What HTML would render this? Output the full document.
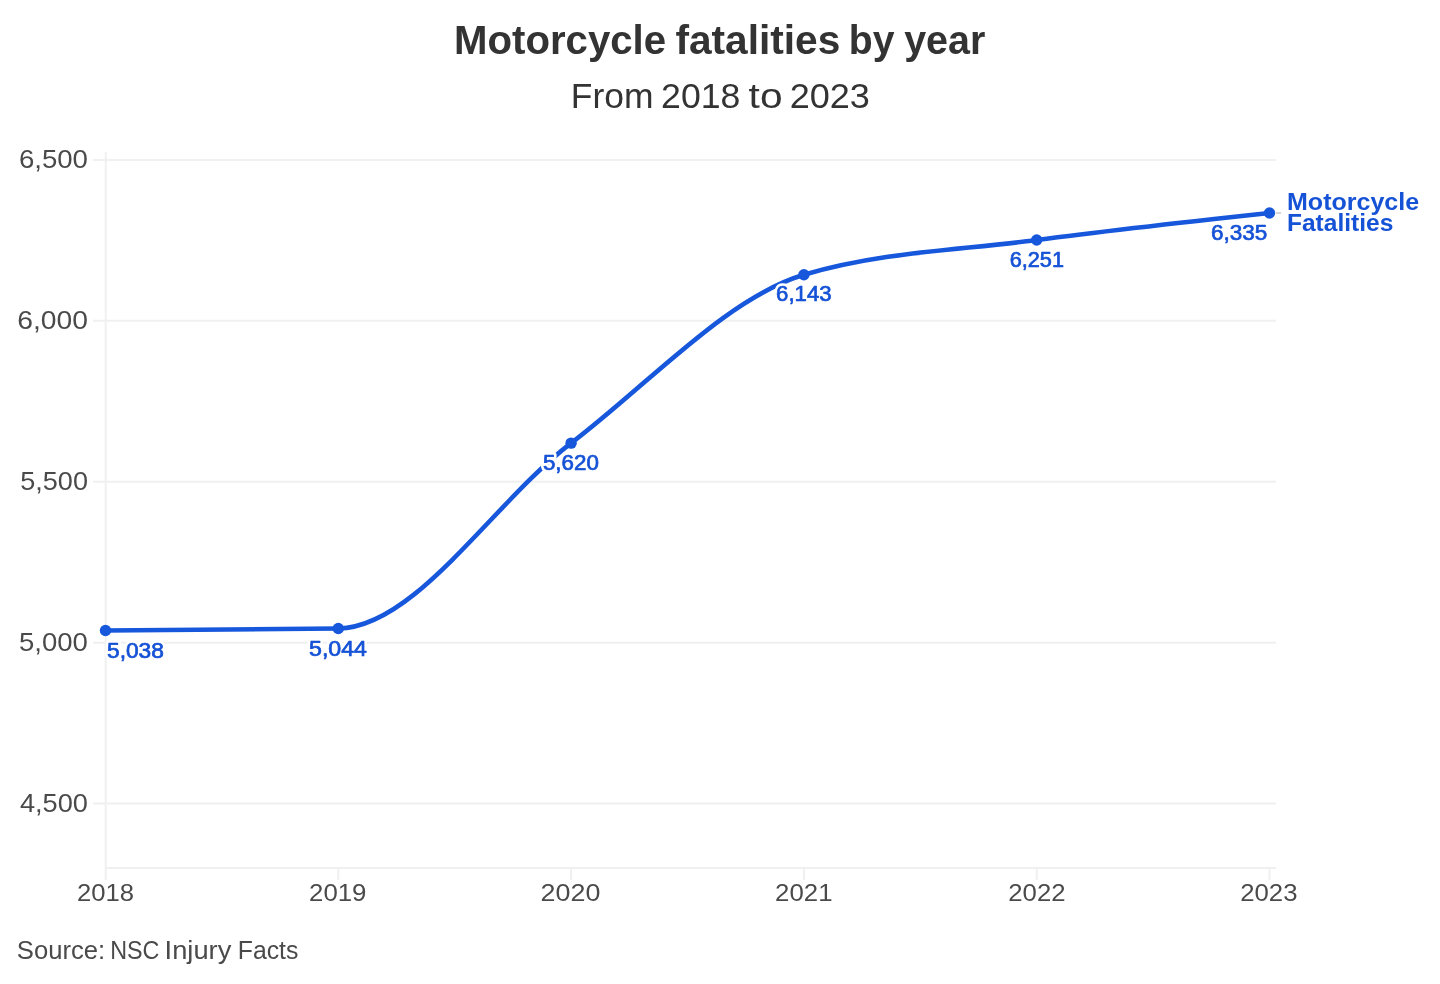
<!DOCTYPE html><html><head><meta charset="utf-8"><title>Motorcycle fatalities by year</title><style>html,body{margin:0;padding:0;background:#fff;width:1440px;height:984px;overflow:hidden}svg{display:block;filter:blur(0.50px)}text{font-family:"Liberation Sans",sans-serif}</style></head><body>
<svg width="1440" height="984" viewBox="0 0 1440 984">
<rect width="1440" height="984" fill="#fff"/>
<line x1="93" y1="159.90" x2="1276" y2="159.90" stroke="#f0f0f0" stroke-width="2"/>
<line x1="93" y1="320.83" x2="1276" y2="320.83" stroke="#f0f0f0" stroke-width="2"/>
<line x1="93" y1="481.75" x2="1276" y2="481.75" stroke="#f0f0f0" stroke-width="2"/>
<line x1="93" y1="642.68" x2="1276" y2="642.68" stroke="#f0f0f0" stroke-width="2"/>
<line x1="93" y1="803.60" x2="1276" y2="803.60" stroke="#f0f0f0" stroke-width="2"/>
<line x1="104.7" y1="868.00" x2="1276" y2="868.00" stroke="#f0f0f0" stroke-width="2"/>
<line x1="105.7" y1="152" x2="105.7" y2="880" stroke="#f0f0f0" stroke-width="2"/>
<line x1="338.30" y1="868.00" x2="338.30" y2="880" stroke="#f0f0f0" stroke-width="2"/>
<line x1="571.10" y1="868.00" x2="571.10" y2="880" stroke="#f0f0f0" stroke-width="2"/>
<line x1="803.90" y1="868.00" x2="803.90" y2="880" stroke="#f0f0f0" stroke-width="2"/>
<line x1="1036.70" y1="868.00" x2="1036.70" y2="880" stroke="#f0f0f0" stroke-width="2"/>
<line x1="1269.50" y1="868.00" x2="1269.50" y2="880" stroke="#f0f0f0" stroke-width="2"/>
<line x1="1276" y1="213.01" x2="1281" y2="213.01" stroke="#c4c4c4" stroke-width="1.4"/>
<text x="454.00" y="53.85" font-size="40.50" textLength="212.08" lengthAdjust="spacingAndGlyphs" text-anchor="start" font-weight="bold" fill="#333333">Motorcycle</text>
<text x="675.40" y="53.85" font-size="40.50" textLength="164.89" lengthAdjust="spacingAndGlyphs" text-anchor="start" font-weight="bold" fill="#333333">fatalities</text>
<text x="848.75" y="53.85" font-size="40.50" textLength="45.76" lengthAdjust="spacingAndGlyphs" text-anchor="start" font-weight="bold" fill="#333333">by</text>
<text x="904.20" y="53.85" font-size="40.50" textLength="81.13" lengthAdjust="spacingAndGlyphs" text-anchor="start" font-weight="bold" fill="#333333">year</text>
<text x="570.80" y="108.40" font-size="35.00" textLength="82.68" lengthAdjust="spacingAndGlyphs" text-anchor="start" fill="#333333">From</text>
<text x="661.10" y="108.40" font-size="35.00" textLength="79.34" lengthAdjust="spacingAndGlyphs" text-anchor="start" fill="#333333">2018</text>
<text x="748.60" y="108.40" font-size="35.00" textLength="33.94" lengthAdjust="spacingAndGlyphs" text-anchor="start" fill="#333333">to</text>
<text x="789.70" y="108.40" font-size="35.00" textLength="80.21" lengthAdjust="spacingAndGlyphs" text-anchor="start" fill="#333333">2023</text>
<text x="18.90" y="167.50" font-size="25.00" textLength="69.09" lengthAdjust="spacingAndGlyphs" text-anchor="start" fill="#4a4a4a">6,500</text>
<text x="17.30" y="328.75" font-size="25.00" textLength="70.71" lengthAdjust="spacingAndGlyphs" text-anchor="start" fill="#4a4a4a">6,000</text>
<text x="20.25" y="490.00" font-size="25.00" textLength="67.72" lengthAdjust="spacingAndGlyphs" text-anchor="start" fill="#4a4a4a">5,500</text>
<text x="19.00" y="650.60" font-size="25.00" textLength="68.92" lengthAdjust="spacingAndGlyphs" text-anchor="start" fill="#4a4a4a">5,000</text>
<text x="19.90" y="811.60" font-size="25.00" textLength="68.04" lengthAdjust="spacingAndGlyphs" text-anchor="start" fill="#4a4a4a">4,500</text>
<text x="77.00" y="901.30" font-size="24.60" textLength="57.08" lengthAdjust="spacingAndGlyphs" text-anchor="start" fill="#4a4a4a">2018</text>
<text x="309.10" y="901.30" font-size="24.60" textLength="57.34" lengthAdjust="spacingAndGlyphs" text-anchor="start" fill="#4a4a4a">2019</text>
<text x="540.60" y="901.30" font-size="24.60" textLength="59.80" lengthAdjust="spacingAndGlyphs" text-anchor="start" fill="#4a4a4a">2020</text>
<text x="775.10" y="901.30" font-size="24.60" textLength="57.40" lengthAdjust="spacingAndGlyphs" text-anchor="start" fill="#4a4a4a">2021</text>
<text x="1008.30" y="901.30" font-size="24.60" textLength="57.29" lengthAdjust="spacingAndGlyphs" text-anchor="start" fill="#4a4a4a">2022</text>
<text x="1240.20" y="901.30" font-size="24.60" textLength="57.30" lengthAdjust="spacingAndGlyphs" text-anchor="start" fill="#4a4a4a">2023</text>
<text x="16.80" y="958.70" font-size="25.60" textLength="88.39" lengthAdjust="spacingAndGlyphs" text-anchor="start" fill="#4a4a4a">Source:</text>
<text x="110.20" y="958.70" font-size="25.60" textLength="49.30" lengthAdjust="spacingAndGlyphs" text-anchor="start" fill="#4a4a4a">NSC</text>
<text x="164.60" y="958.70" font-size="25.60" textLength="66.69" lengthAdjust="spacingAndGlyphs" text-anchor="start" fill="#4a4a4a">Injury</text>
<text x="237.80" y="958.70" font-size="25.60" textLength="60.58" lengthAdjust="spacingAndGlyphs" text-anchor="start" fill="#4a4a4a">Facts</text>
<path d="M105.50,630.44 C183.10,630.12 260.70,629.80 338.30,628.51 C415.90,627.23 493.50,502.08 571.10,443.13 C648.70,384.18 726.30,297.97 803.90,274.80 C881.50,251.63 959.10,250.34 1036.70,240.04 C1114.30,229.74 1191.90,221.37 1269.50,213.01" fill="none" stroke="#1657dc" stroke-width="4.60" stroke-linecap="round" stroke-linejoin="round"/>
<circle cx="105.50" cy="630.44" r="5.70" fill="#1657dc"/>
<circle cx="338.30" cy="628.51" r="5.70" fill="#1657dc"/>
<circle cx="571.10" cy="443.13" r="5.70" fill="#1657dc"/>
<circle cx="803.90" cy="274.80" r="5.70" fill="#1657dc"/>
<circle cx="1036.70" cy="240.04" r="5.70" fill="#1657dc"/>
<circle cx="1269.50" cy="213.01" r="5.70" fill="#1657dc"/>
<text x="107.00" y="657.50" font-size="21.70" textLength="56.90" lengthAdjust="spacingAndGlyphs" text-anchor="start" fill="#fff" stroke="#fff" stroke-width="5.7" stroke-linejoin="round">5,038</text>
<text x="107.00" y="657.50" font-size="21.70" textLength="56.90" lengthAdjust="spacingAndGlyphs" text-anchor="start" fill="#1552d6" stroke="#1552d6" stroke-width="0.70" stroke-linejoin="round">5,038</text>
<text x="309.00" y="655.70" font-size="21.70" textLength="58.02" lengthAdjust="spacingAndGlyphs" text-anchor="start" fill="#fff" stroke="#fff" stroke-width="5.7" stroke-linejoin="round">5,044</text>
<text x="309.00" y="655.70" font-size="21.70" textLength="58.02" lengthAdjust="spacingAndGlyphs" text-anchor="start" fill="#1552d6" stroke="#1552d6" stroke-width="0.70" stroke-linejoin="round">5,044</text>
<text x="542.90" y="470.00" font-size="21.70" textLength="55.93" lengthAdjust="spacingAndGlyphs" text-anchor="start" fill="#fff" stroke="#fff" stroke-width="5.7" stroke-linejoin="round">5,620</text>
<text x="542.90" y="470.00" font-size="21.70" textLength="55.93" lengthAdjust="spacingAndGlyphs" text-anchor="start" fill="#1552d6" stroke="#1552d6" stroke-width="0.70" stroke-linejoin="round">5,620</text>
<text x="776.10" y="301.40" font-size="21.70" textLength="55.45" lengthAdjust="spacingAndGlyphs" text-anchor="start" fill="#fff" stroke="#fff" stroke-width="5.7" stroke-linejoin="round">6,143</text>
<text x="776.10" y="301.40" font-size="21.70" textLength="55.45" lengthAdjust="spacingAndGlyphs" text-anchor="start" fill="#1552d6" stroke="#1552d6" stroke-width="0.70" stroke-linejoin="round">6,143</text>
<text x="1009.70" y="266.90" font-size="21.70" textLength="54.26" lengthAdjust="spacingAndGlyphs" text-anchor="start" fill="#fff" stroke="#fff" stroke-width="5.7" stroke-linejoin="round">6,251</text>
<text x="1009.70" y="266.90" font-size="21.70" textLength="54.26" lengthAdjust="spacingAndGlyphs" text-anchor="start" fill="#1552d6" stroke="#1552d6" stroke-width="0.70" stroke-linejoin="round">6,251</text>
<text x="1211.10" y="239.70" font-size="21.70" textLength="56.30" lengthAdjust="spacingAndGlyphs" text-anchor="start" fill="#fff" stroke="#fff" stroke-width="5.7" stroke-linejoin="round">6,335</text>
<text x="1211.10" y="239.70" font-size="21.70" textLength="56.30" lengthAdjust="spacingAndGlyphs" text-anchor="start" fill="#1552d6" stroke="#1552d6" stroke-width="0.70" stroke-linejoin="round">6,335</text>
<text x="1287.00" y="209.90" font-size="24.80" textLength="132.18" lengthAdjust="spacingAndGlyphs" text-anchor="start" font-weight="bold" fill="#fff" stroke="#fff" stroke-width="4.0" stroke-linejoin="round">Motorcycle</text>
<text x="1287.00" y="209.90" font-size="24.80" textLength="132.18" lengthAdjust="spacingAndGlyphs" text-anchor="start" font-weight="bold" fill="#1552d6">Motorcycle</text>
<text x="1287.00" y="231.30" font-size="24.40" textLength="106.33" lengthAdjust="spacingAndGlyphs" text-anchor="start" font-weight="bold" fill="#fff" stroke="#fff" stroke-width="4.0" stroke-linejoin="round">Fatalities</text>
<text x="1287.00" y="231.30" font-size="24.40" textLength="106.33" lengthAdjust="spacingAndGlyphs" text-anchor="start" font-weight="bold" fill="#1552d6">Fatalities</text>
</svg></body></html>
